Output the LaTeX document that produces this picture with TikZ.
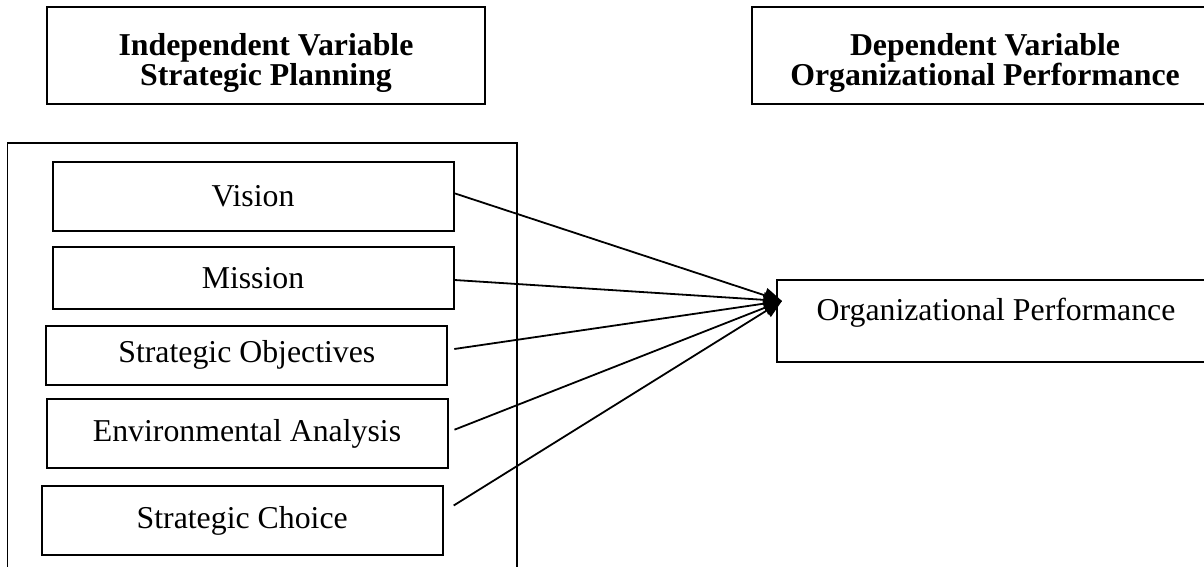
\documentclass[tikz,border=0pt]{standalone}
\usepackage{fontspec}
\setmainfont{Liberation Serif}
\usetikzlibrary{arrows.meta,calc}
\begin{document}
\begin{tikzpicture}[x=0.5pt,y=-0.5pt,
 every node/.style={font=\fontsize{15.9}{15}\selectfont},
 head/.style={draw,line width=1pt,inner sep=0pt,align=center,minimum height=48.25pt,text height=33pt,text depth=3.5pt,font=\fontsize{15.9}{15}\selectfont\bfseries},
 item/.style={draw,line width=1pt,inner sep=0pt,minimum width=200.5pt,minimum height=#1},
 link/.style={line width=0.9pt,-{Triangle[length=9pt,width=7.5pt]}}]
 \useasboundingbox (0,0) rectangle (1204,567);
 \clip (0,0) rectangle (1204,567);
 \node[head,minimum width=219pt] (indep) at (266,55.75) {Independent Variable\\Strategic Planning};
 \node[head,minimum width=233pt] (dep) at (985,55.75) {Dependent Variable\\Organizational Performance};
 \draw[line width=0.8pt] (7.5,580)--(7.5,143)--(517,143)--(517,580);
 \node[item=34.25pt] (vision) at (253,196.3) {Vision};
 \node[item=31pt] (mission) at (253,278) {Mission};
 \node[item=29.5pt] (objectives) at (246.8,355) {Strategic Objectives};
 \node[item=34.75pt] (analysis) at (247,433.7) {Environmental Analysis};
 \node[item=34.5pt] (choice) at (242.2,520.5) {Strategic Choice};
 \node[draw,line width=1pt,inner sep=0pt,minimum width=219pt,minimum height=41pt,text height=11pt,text depth=12pt] (perf) at (996,321) {Organizational Performance};
 \coordinate (hub) at ($(perf.north west)+(6,22)$);
 \draw[link] ([shift={(0,-3)}]vision.east) -- (hub);
 \draw[link] ([shift={(0,2)}]mission.east) -- (hub);
 \draw[link] ([shift={(6,-6)}]objectives.east) -- (hub);
 \draw[link] ([shift={(6,-4)}]analysis.east) -- (hub);
 \draw[link] ([shift={(10,-15)}]choice.east) -- (hub);
\end{tikzpicture}
\end{document}
